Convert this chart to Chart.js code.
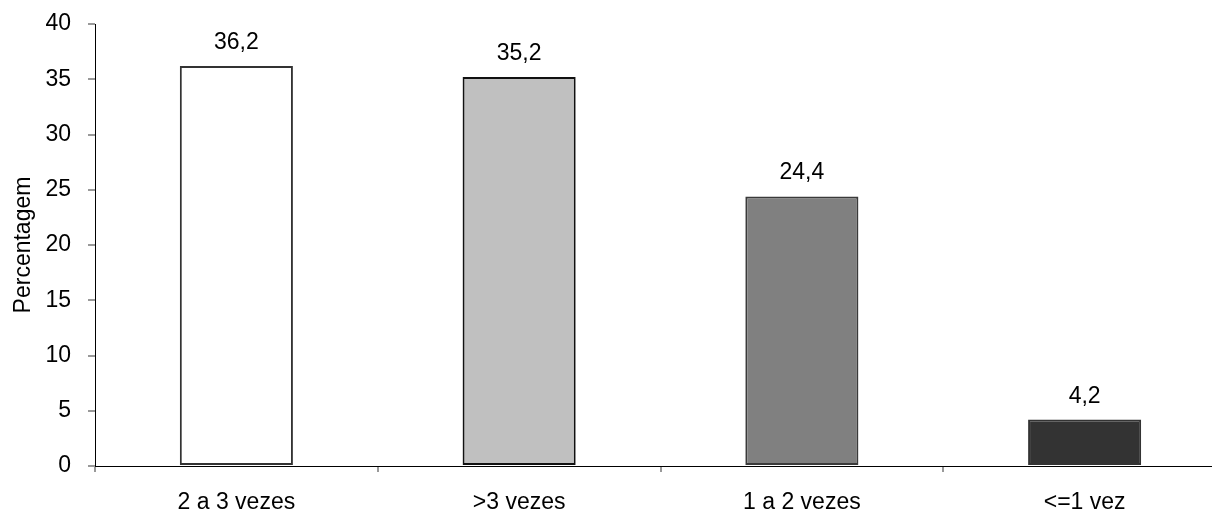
<!DOCTYPE html>
<html>
<head>
<meta charset="utf-8">
<script src="https://cdn.jsdelivr.net/npm/chart.js@4/dist/chart.umd.min.js"></script>
<style>
  html, body { margin: 0; padding: 0; background: #fff; overflow: hidden; }
  #wrap { width: 1212px; height: 516px; overflow: hidden; position: relative; }
  canvas { display: block; }
</style>
</head>
<body>
<div id="wrap"><canvas id="c" width="1226" height="516"></canvas></div>
<script>
// Frequency categories and their percentages
const categories = ['2 a 3 vezes', '>3 vezes', '1 a 2 vezes', '<=1 vez'];
const percentages = [36.2, 35.2, 24.4, 4.2];
const yTicks = { min: 0, max: 40, step: 5 };

const fillColors = ['#ffffff', '#c0c0c0', '#808080', '#333333'];
const borderColors = ['#333333', '#111111', '#3a3a3a', '#333333'];

const FONT = '"Liberation Sans", Arial, sans-serif';

// Draws each bar's value above it, with a decimal comma
const valueLabels = {
  id: 'valueLabels',
  afterDatasetsDraw(chart) {
    const ctx = chart.ctx;
    const meta = chart.getDatasetMeta(0);
    ctx.save();
    ctx.font = '23px ' + FONT;
    ctx.fillStyle = '#000';
    ctx.textAlign = 'center';
    ctx.textBaseline = 'alphabetic';
    meta.data.forEach((bar, i) => {
      const txt = percentages[i].toFixed(1).replace('.', ',');
      ctx.fillText(txt, bar.x, bar.y - 17);
    });
    ctx.restore();
  }
};

new Chart(document.getElementById('c'), {
  type: 'bar',
  data: {
    labels: categories,
    datasets: [{
      data: percentages,
      backgroundColor: fillColors,
      borderColor: borderColors,
      borderWidth: 2,
      borderSkipped: false,
      categoryPercentage: 1,
      barPercentage: 0.4
    }]
  },
  options: {
    responsive: false,
    animation: false,
    layout: { padding: { top: 24, right: 0, left: 0, bottom: 0 } },
    plugins: {
      legend: { display: false },
      tooltip: { enabled: false }
    },
    scales: {
      x: {
        offset: true,
        grid: {
          offset: true,
          drawOnChartArea: false,
          drawTicks: true,
          tickLength: 6,
          color: '#999999',
          lineWidth: 2
        },
        border: { color: '#000', width: 1 },
        ticks: {
          color: '#000',
          font: { family: FONT, size: 23 },
          padding: 17,
          maxRotation: 0
        },
        afterFit(scale) { scale.height = 50; }
      },
      y: {
        min: yTicks.min,
        max: yTicks.max,
        grid: {
          drawOnChartArea: false,
          drawTicks: true,
          tickLength: 7,
          color: '#999999',
          lineWidth: 2
        },
        border: { color: '#000', width: 1 },
        ticks: {
          stepSize: yTicks.step,
          color: '#000',
          font: { family: FONT, size: 23 },
          padding: 17
        },
        title: {
          display: true,
          text: 'Percentagem',
          color: '#000',
          font: { family: FONT, size: 23 },
          padding: { top: 10, bottom: 0 }
        },
        afterFit(scale) {
          scale.width = 95;
          scale.paddingTop = 0;
          scale.paddingBottom = 0;
        }
      }
    }
  },
  plugins: [valueLabels]
});
</script>
</body>
</html>
